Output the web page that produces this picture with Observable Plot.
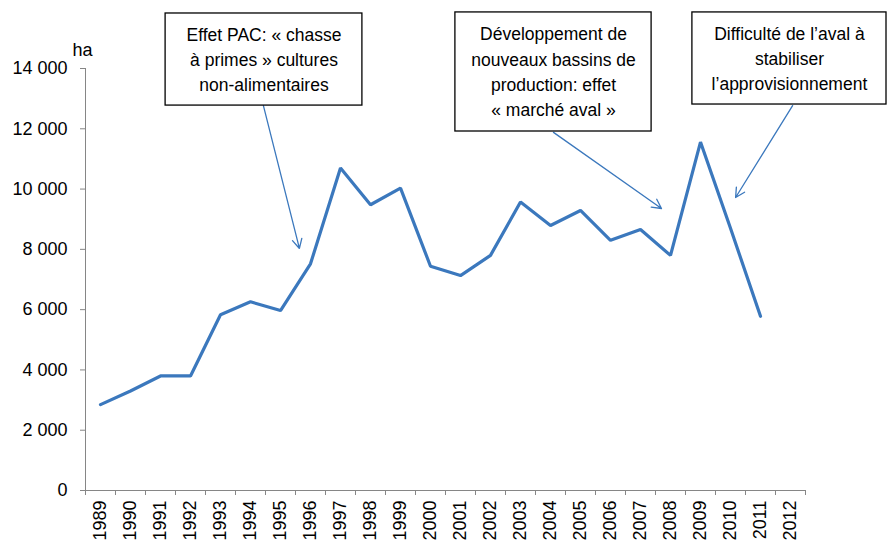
<!DOCTYPE html>
<html><head><meta charset="utf-8">
<script src="https://cdn.jsdelivr.net/npm/d3@7"></script>
<script src="https://cdn.jsdelivr.net/npm/@observablehq/plot@0.6"></script>
<style>
body{margin:0;background:#fff}
#chart{width:887px;height:543px;overflow:hidden}
</style>
</head><body><div id="chart"></div>
<script>
// ---- data ----
const years = [1989,1990,1991,1992,1993,1994,1995,1996,1997,1998,1999,2000,2001,2002,2003,2004,2005,2006,2007,2008,2009,2010,2011,2012];
const surfaces = [2850,3300,3800,3800,5830,6260,5970,7520,10700,9480,10030,7440,7130,7800,9570,8790,9290,8300,8660,7800,11560,8700,5780];
const yTicks = [0,2000,4000,6000,8000,10000,12000,14000];
const unitLabel = ["ha"];

// annotation boxes (in data coordinates: year, ha)
const annoTexts = [
  "Effet PAC: « chasse\nà primes » cultures\nnon-alimentaires",
  "Développement de\nnouveaux bassins de\nproduction: effet\n« marché aval »",
  "Difficulté de l’aval à\nstabiliser\nl’approvisionnement"
];
const annoX1 = [1991.17, 2000.83, 2008.73];
const annoX2 = [1997.73, 2007.37, 2015.2];
const annoY1 = [12770, 11910, 12805];
const annoY2 = [15825, 15860, 15860];
const annoYc = [14360, 13950, 14390];
// arrows from box to series
const arrowX1 = [1994.43, 2004.1, 2012.07];
const arrowY1 = [12770, 11880, 12770];
const arrowX2 = [1995.63, 2007.7, 2010.17];
const arrowY2 = [8030, 9355, 9720];

// ---- build ----
const series = surfaces.map((v,i)=>({year: years[i], value: v}));
const boxes = annoTexts.map((t,i)=>({text:t, x1:annoX1[i], x2:annoX2[i], y1:annoY1[i], y2:annoY2[i], yc:annoYc[i]}));
const arrows = arrowX1.map((x,i)=>({x1:x, y1:arrowY1[i], x2:arrowX2[i], y2:arrowY2[i]}));
const boundaries = years.map(y=>y-0.5).concat([years[years.length-1]+0.5]);
const fmt = d => d3.format(",")(d).replace(/,/g," ");

const axisColor = "#868686";
const lineColor = "#3b78bd";
const font = "'Liberation Sans', Arial, sans-serif";

const chart = Plot.plot({
  width: 887, height: 543,
  marginLeft: 85, marginRight: 82, marginTop: 68, marginBottom: 53,
  style: {fontFamily: font, fontSize: "18px", color: "#000", background: "white", overflow: "visible"},
  x: {type: "linear", domain: [boundaries[0], boundaries[boundaries.length-1]], label: null},
  y: {domain: [0, 14000], label: null},
  marks: [
    Plot.ruleY([0], {stroke: axisColor, strokeWidth: 1}),
    Plot.ruleX([boundaries[0]], {stroke: axisColor, strokeWidth: 1}),
    Plot.axisY({ticks: yTicks, tickSize: 5, tickPadding: 13, tickFormat: fmt, stroke: axisColor, fill: "#000", fontSize: 18, label: null}),
    Plot.axisX({ticks: boundaries, tickSize: 5, tickFormat: () => "", stroke: axisColor, label: null}),
    Plot.axisX({ticks: years, tickSize: 0, tickPadding: 10, tickRotate: -90, tickFormat: d => String(d), fill: "#000", fontSize: 18, label: null}),
    Plot.text(unitLabel, {frameAnchor: "top-left", textAnchor: "middle", dx: -3, dy: -25, text: d => d, fontSize: 18}),
    Plot.line(series, {x: "year", y: "value", stroke: lineColor, strokeWidth: 3.2, strokeLinejoin: "miter"}),
    Plot.arrow(arrows, {x1: "x1", y1: "y1", x2: "x2", y2: "y2", stroke: lineColor, strokeWidth: 1.3, headLength: 12, headAngle: 55, bend: 0}),
    Plot.rect(boxes, {x1: "x1", x2: "x2", y1: "y1", y2: "y2", fill: "white", stroke: "#000", strokeWidth: 1.3}),
    Plot.text(boxes, {x: d => (d.x1 + d.x2) / 2, y: "yc", text: "text", fontSize: 17.5, lineHeight: 1.43, fill: "#000"})
  ]
});
document.getElementById("chart").appendChild(chart);
</script>
</body></html>
